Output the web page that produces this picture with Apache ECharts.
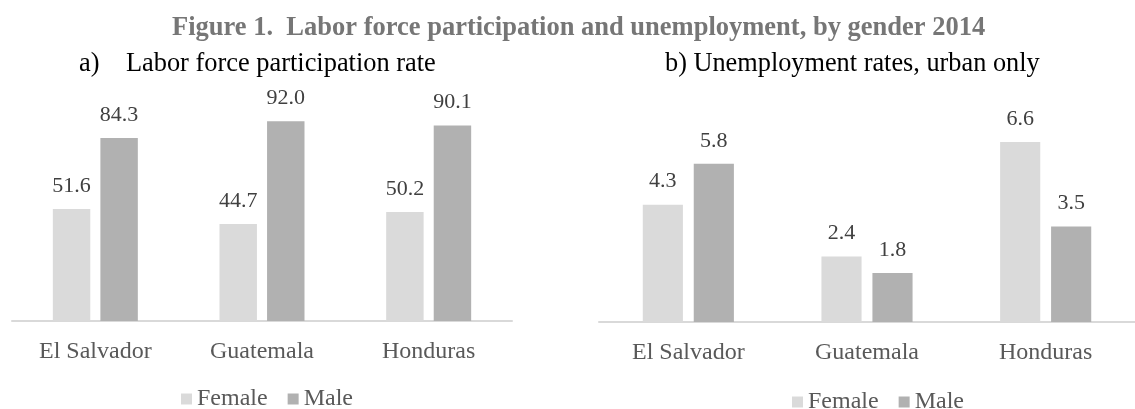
<!DOCTYPE html>
<html>
<head>
<meta charset="utf-8">
<script src="https://cdn.jsdelivr.net/npm/echarts@6/dist/echarts.min.js"></script>
<style>
  html, body { margin: 0; padding: 0; background: #fff; }
  #chart { width: 1135px; height: 409px; }
</style>
</head>
<body>
<div id="chart"></div>
<script>
// data
const categories = ['El Salvador', 'Guatemala', 'Honduras']
const lfpFemale = [51.6, 44.7, 50.2]
const lfpMale = [84.3, 92.0, 90.1]
const unempFemale = [4.3, 2.4, 6.6]
const unempMale = [5.8, 1.8, 3.5]

const FONT = '"Liberation Serif", "Times New Roman", serif'
const FEMALE = '#dadada'
const MALE = '#b1b1b1'

let dom = echarts.init(document.getElementById('chart'), null, { renderer: 'canvas' })

function valueLabel() {
  return {
    show: true,
    position: 'top',
    distance: 12,
    color: '#404040',
    fontFamily: FONT,
    fontSize: 22,
    formatter: p => p.value.toFixed(1)
  }
}

function xAxis(gridIndex) {
  return {
    type: 'category',
    gridIndex: gridIndex,
    data: categories,
    axisLine: { lineStyle: { color: '#d9d9d9', width: 2 } },
    axisTick: { show: false },
    axisLabel: { color: '#595959', fontFamily: FONT, fontSize: 24, margin: 19 }
  }
}

function yAxis(gridIndex, max) {
  return {
    type: 'value',
    gridIndex: gridIndex,
    min: 0,
    max: max,
    show: false,
    splitLine: { show: false }
  }
}

function bars(name, data, color, idx) {
  return {
    name: name,
    type: 'bar',
    xAxisIndex: idx,
    yAxisIndex: idx,
    data: data,
    barGap: '27%',
    barCategoryGap: '49%',
    itemStyle: { color: color },
    label: valueLabel(),
    emphasis: { disabled: true }
  }
}

function legend(left, top) {
  return {
    left: left,
    top: top,
    icon: 'rect',
    itemWidth: 11,
    itemHeight: 11,
    itemGap: 20,
    selectedMode: false,
    textStyle: { color: '#595959', fontFamily: FONT, fontSize: 24 },
    data: ['Female', 'Male']
  }
}

let option = {
  animation: false,
  backgroundColor: '#fff',
  title: [
    {
      text: 'Figure 1.  Labor force participation and unemployment, by gender 2014',
      left: 167,
      top: 10,
      textStyle: { color: '#767676', fontFamily: FONT, fontSize: 26.5, fontWeight: 'bold' }
    },
    {
      text: 'a)    Labor force participation rate',
      left: 74,
      top: 46,
      textStyle: { color: '#000', fontFamily: FONT, fontSize: 26.4, fontWeight: 'normal' }
    },
    {
      text: 'b) Unemployment rates, urban only',
      left: 660,
      top: 46,
      textStyle: { color: '#000', fontFamily: FONT, fontSize: 26.3, fontWeight: 'normal' }
    }
  ],
  legend: [legend(176, 382), legend(787, 385)],
  grid: [
    { left: 12, width: 500, top: 104, bottom: 88 },
    { left: 599, width: 550, top: 131, bottom: 87 }
  ],
  xAxis: [xAxis(0), xAxis(1)],
  yAxis: [yAxis(0, 100), yAxis(1, 7)],
  series: [
    bars('Female', lfpFemale, FEMALE, 0),
    bars('Male', lfpMale, MALE, 0),
    bars('Female', unempFemale, FEMALE, 1),
    bars('Male', unempMale, MALE, 1)
  ]
}

dom.setOption(option)
window.addEventListener('resize', dom.resize)
</script>
</body>
</html>
